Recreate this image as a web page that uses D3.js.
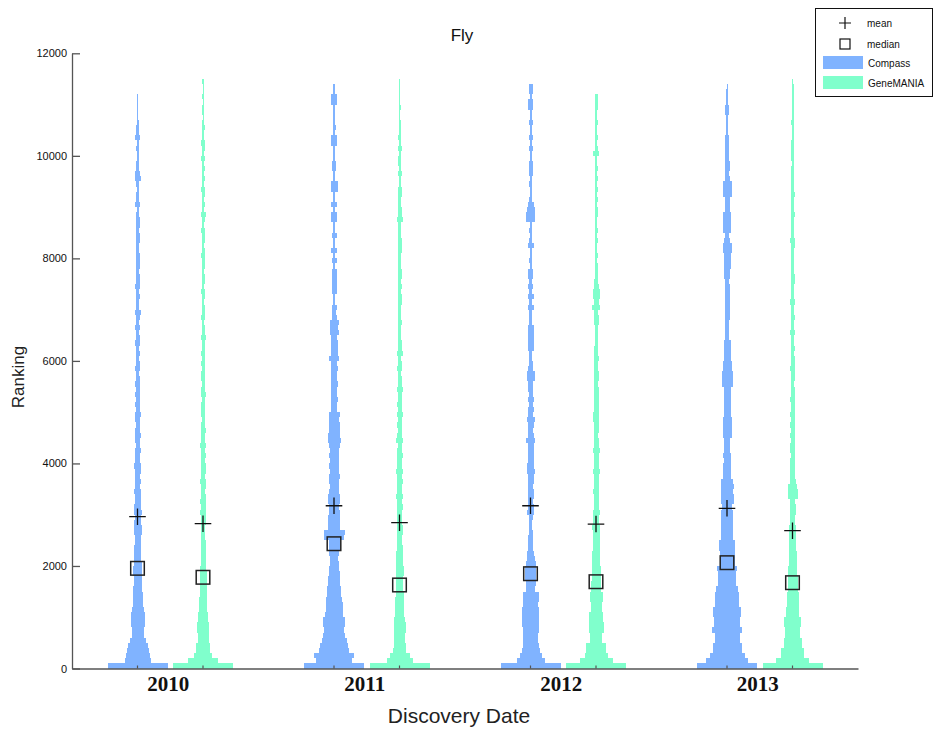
<!DOCTYPE html>
<html>
<head>
<meta charset="utf-8">
<script src="https://cdn.jsdelivr.net/npm/d3@7/dist/d3.min.js"></script>
<style>
  html, body { margin: 0; padding: 0; background: #fff; }
  svg { display: block; }
</style>
</head>
<body>
<svg id="chart" width="934" height="729"></svg>
<script>
// ---------------- DATA ----------------
const years = ["2010", "2011", "2012", "2013"];
const series = ["Compass", "GeneMANIA"];
const binSize = 100; // ranking units per histogram bin
const yTicks = [0, 2000, 4000, 6000, 8000, 10000, 12000];

// histogram counts per 100-rank bin, starting at bin 0-100
const compass2010 = [60,26,24,22,20,16,12,12,14,14,14,12,10,10,10,9,8,8,9,9,8,7,7,7,6,6,8,8,7,6,
  8,7,6,6,7,5,6,5,6,7,5,5,6,4,5,6,5,4,5,6,4,5,4,5,4,5,
  4,3,5,4,3,4,3,5,4,3, 5,3,4,6,3,3,4,3,5,4, 4,3,4,4,4,3,3,4,4,3,
  4,4,3,2,5,3,3,2,3,6, 5,3,3,2,2,3,2,5,3,3, 2,1,1,1,1,1];
const gene2010 = [60,30,18,14,14,11,11,12,12,10,10,8,8,8,7,7,7,7,7,6,5,5,5,5,5,4,4,4,5,5,
  6,5,6,5,4,5,6,4,5,5, 4,5,4,6,4,4,5,4,3,4, 4,4,3,5,4,3,4,4,3,4,
  3,4,3,3,5,3,3,2,4,3, 3,2,3,4,2,3,3,2,3,3, 4,3,2,3,3,4,2,3,5,2,
  3,2,3,4,2,3,2,3,2,4, 2,3,4,2,2,3,2,1,2,2, 1,2,1,1,2];
const compass2011 = [60,36,40,30,28,25,22,20,22,22,18,17,17,16,14,14,12,12,11,10,9,8,10,11,11,20,21,12,12,12,
  11,10,12,12,10,9,10,11,9,10, 9,10,9,11,13,12,11,11,10,11, 6,6,7,6,6,7,6,6,7,6,
  10,7,7,7,6,9,8,9,5,4, 5,2,2,5,5,5,5,5,2,5, 2,6,2,2,5,2,2,6,6,2,
  6,2,2,7,7,2,2,4,4,2, 2,2,6,6,2,3,2,2,2,2, 6,6,2,2];
const gene2011 = [60,26,20,13,12,11,11,12,12,11,9,9,9,9,8,7,7,7,8,8,7,7,7,6,5,5,6,6,5,5,
  5,6,5,7,5,5,6,5,7,5, 5,6,5,4,7,5,4,5,4,6, 4,5,4,4,6,4,4,3,5,4,
  3,6,4,4,3,3,3,4,3,3, 3,4,4,3,4,3,4,4,3,3, 3,4,4,4,3,3,3,6,4,4,
  3,3,4,4,2,2,4,2,3,3, 2,4,2,3,2,2,2,1,1,2, 1,1,1,1,1];
const compass2012 = [60,28,22,18,16,15,15,16,17,17,17,17,15,16,16,9,10,11,11,11,10,8,7,5,5,5,4,3,3,4,
  7,6,5,6,6,5,6,6,8,7, 6,6,6,6,9,6,5,6,8,5, 6,4,6,4,5,5,8,8,5,4,
  3,3,6,6,6,6,6,3,3,3, 6,3,6,3,5,3,5,5,2,3, 2,2,6,3,2,3,2,9,9,8,
  6,3,2,2,3,2,4,4,4,2, 2,4,2,4,2,2,4,2,2,5, 5,2,4,4];
const gene2012 = [60,33,23,20,20,12,12,15,15,14,14,11,11,13,13,10,10,9,9,9,8,8,8,7,7,7,7,8,6,6,
  7,5,5,5,6,5,5,5,7,5, 5,5,7,5,5,4,5,5,6,6, 5,5,5,5,5,4,5,5,4,4,
  5,4,4,3,3,3,3,5,5,4, 8,5,7,7,5,4,3,3,3,2, 3,2,2,3,2,3,2,2,3,3,
  2,3,2,3,2,3,2,3,2,2, 6,3,2,3,2,2,3,2,2,3, 3,3];
const compass2013 = [60,42,35,29,29,25,25,30,26,26,28,28,24,24,24,22,18,18,18,20,15,15,15,16,16,12,12,12,12,12,
  12,10,13,13,12,13,12,8,8,8, 7,8,6,6,6,9,9,9,9,7, 7,7,7,7,7,11,11,11,9,9,
  7,7,7,7,4,4,4,4,5,5, 5,5,5,5,5,4,6,6,7,7, 7,9,9,6,4,8,8,8,8,5,
  5,5,9,9,9,5,4,5,5,4, 4,4,4,4,2,2,2,2,4,4, 2,2,2,1];
const gene2013 = [60,33,23,23,18,18,15,15,17,17,13,13,12,12,12,10,10,10,9,9,8,8,8,7,7,7,7,7,5,5,
  6,6,5,10,10,9,6,5,5,5, 5,4,5,5,4,5,4,5,4,5, 4,4,5,4,4,3,4,4,5,4,
  4,3,4,3,3,5,3,3,4,3, 3,5,3,3,3,4,4,3,3,3, 3,3,4,5,3,3,3,3,4,3,
  3,3,4,3,3,3,3,3,2,3, 3,3,3,2,2,2,3,2,2,2, 2,2,2,2,1];

const compassCounts = [compass2010, compass2011, compass2012, compass2013];
const geneCounts = [gene2010, gene2011, gene2012, gene2013];
const compassMean = [2961, 3175, 3175, 3125];
const compassMedian = [1954, 2434, 1849, 2064];
const geneMean = [2824, 2844, 2818, 2688];
const geneMedian = [1779, 1629, 1693, 1674];

const colors = { Compass: "#80b3ff", GeneMANIA: "#80ffcc" };

// ---------------- LAYOUT ----------------
const svg = d3.select("#chart");
const plotLeft = 72, plotRight = 858, plotTop = 53.3, plotBottom = 668.5;
const maxHalfWidth = 30;

const y = d3.scaleLinear().domain([0, 12000]).range([plotBottom, plotTop]);
const x0 = d3.scaleBand().domain(years).range([plotLeft, plotRight]);
const x1 = d3.scalePoint().domain(series).range([0, x0.bandwidth()]).padding(1);
const allCounts = compassCounts.concat(geneCounts).flat();
const w = d3.scaleLinear().domain([0, d3.max(allCounts)]).range([0, maxHalfWidth]);

// build violin records
const violins = [];
years.forEach((yr, i) => {
  violins.push({ year: yr, s: "Compass", counts: compassCounts[i], mean: compassMean[i], median: compassMedian[i] });
  violins.push({ year: yr, s: "GeneMANIA", counts: geneCounts[i], mean: geneMean[i], median: geneMedian[i] });
});
const cx = d => x0(d.year) + x1(d.s);

// bars
const vg = svg.append("g");
violins.forEach(v => {
  const c = cx(v);
  vg.append("g")
    .selectAll("rect")
    .data(v.counts.map((n, k) => ({ n, lo: k * binSize, hi: (k + 1) * binSize })).filter(b => b.n > 0))
    .join("rect")
    .attr("x", b => c - w(b.n))
    .attr("width", b => 2 * w(b.n))
    .attr("y", b => y(b.hi))
    .attr("height", b => y(b.lo) - y(b.hi))
    .attr("fill", colors[v.s])
    .attr("shape-rendering", "crispEdges");
});

// axes
const yAxis = d3.axisLeft(y).tickValues(yTicks).tickSizeInner(-8).tickSizeOuter(0).tickPadding(5)
  .tickFormat(d3.format("d"));
const gy = svg.append("g").attr("transform", `translate(${plotLeft},0)`).call(yAxis);
gy.selectAll("text").attr("font-family", "Liberation Sans, Arial, sans-serif").attr("font-size", 11).attr("fill", "#111");
gy.selectAll("line, path").attr("stroke", "#555").attr("stroke-width", 1.3);

const xAxis = d3.axisBottom(x0).tickSize(0).tickSizeOuter(0);
const gx = svg.append("g").attr("transform", `translate(0,${plotBottom})`).call(xAxis);
gx.select("path").attr("stroke", "#555").attr("stroke-width", 1.3);
gx.selectAll("text")
  .attr("font-family", "Liberation Serif, Times New Roman, serif")
  .attr("font-weight", "bold")
  .attr("font-size", 21)
  .attr("fill", "#111")
  .attr("dy", 0)
  .attr("y", 22.5)
  .attr("dx", -2);
// small ticks at violin centres
svg.append("g").selectAll("line").data(violins).join("line")
  .attr("x1", cx).attr("x2", cx)
  .attr("y1", plotBottom).attr("y2", plotBottom - 3)
  .attr("stroke", "#555").attr("stroke-width", 1.2);

// mean / median markers
const mg = svg.append("g");
const plusSize = 8.3, sqSize = 6.8;
violins.forEach(v => {
  const c = cx(v), my = y(v.mean), dy = y(v.median);
  mg.append("path")
    .attr("d", `M${c - plusSize},${my}H${c + plusSize}M${c},${my - plusSize}V${my + plusSize}`)
    .attr("stroke", "#111").attr("stroke-width", 1.3).attr("fill", "none");
  mg.append("rect")
    .attr("x", c - sqSize).attr("y", dy - sqSize)
    .attr("width", 2 * sqSize).attr("height", 2 * sqSize)
    .attr("fill", "none").attr("stroke", "#222").attr("stroke-width", 1.5);
});

// titles
svg.append("text").attr("x", 462).attr("y", 41).attr("text-anchor", "middle")
  .attr("font-family", "Liberation Sans, Arial, sans-serif").attr("font-size", 17).attr("fill", "#111").text("Fly");
svg.append("text").attr("transform", "translate(24,377) rotate(-90)").attr("text-anchor", "middle")
  .attr("font-family", "Liberation Sans, Arial, sans-serif").attr("font-size", 17).attr("fill", "#222").text("Ranking");
svg.append("text").attr("x", 459).attr("y", 723).attr("text-anchor", "middle")
  .attr("font-family", "Liberation Sans, Arial, sans-serif").attr("font-size", 21).attr("fill", "#222").text("Discovery Date");

// legend
const lg = svg.append("g");
lg.append("rect").attr("x", 815.5).attr("y", 8.5).attr("width", 117).attr("height", 88)
  .attr("fill", "#fff").attr("stroke", "#111").attr("stroke-width", 1);
const legendItems = [
  { label: "mean", kind: "plus", yy: 23 },
  { label: "median", kind: "square", yy: 44 },
  { label: "Compass", kind: "patch", yy: 63, color: colors.Compass },
  { label: "GeneMANIA", kind: "patch", yy: 83, color: colors.GeneMANIA }
];
legendItems.forEach(it => {
  if (it.kind === "plus") {
    lg.append("path").attr("d", `M839,${it.yy}H851M845,${it.yy - 6}V${it.yy + 6}`)
      .attr("stroke", "#111").attr("stroke-width", 1.2);
  } else if (it.kind === "square") {
    lg.append("rect").attr("x", 840).attr("y", it.yy - 5).attr("width", 10).attr("height", 10)
      .attr("fill", "none").attr("stroke", "#111").attr("stroke-width", 1.2);
  } else {
    lg.append("rect").attr("x", 823).attr("y", it.yy - 7).attr("width", 40).attr("height", 13).attr("fill", it.color);
  }
  lg.append("text").attr("x", it.kind === "patch" ? 868 : 867).attr("y", it.yy + 3.5)
    .attr("font-family", "Liberation Sans, Arial, sans-serif").attr("font-size", 10)
    .attr("fill", "#111").text(it.label);
});
</script>
</body>
</html>
